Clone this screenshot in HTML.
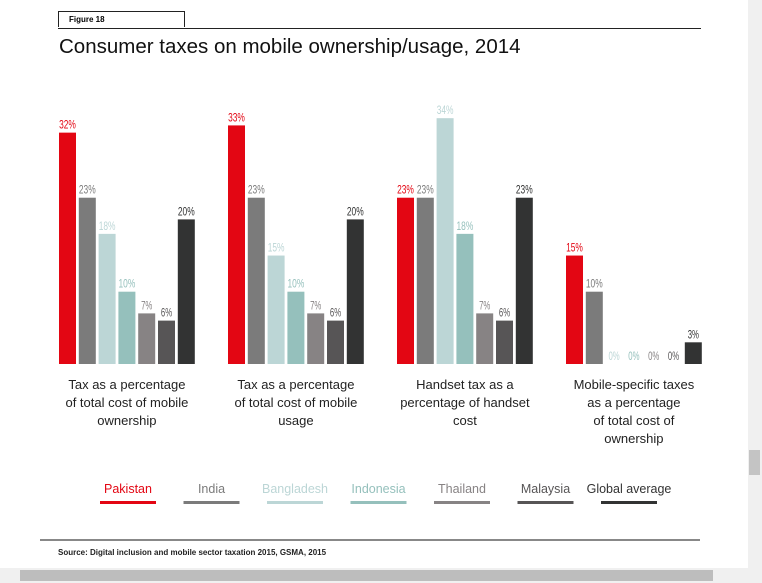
<!DOCTYPE html>
<html><head><meta charset="utf-8"><style>
body{margin:0;width:762px;height:583px;background:#fff;overflow:hidden;font-family:"Liberation Sans",sans-serif;position:relative}
.abs{position:absolute}
</style></head><body>
<div class="abs" style="left:748px;top:0;width:14px;height:583px;background:#f0f0f0"></div>
<div class="abs" style="left:749px;top:450px;width:11px;height:25px;background:#c4c4c4"></div>
<div class="abs" style="left:0;top:568px;width:762px;height:15px;background:#f0f0f0"></div>
<div class="abs" style="left:20px;top:570px;width:693px;height:11px;background:#bdbdbd"></div>
<div class="abs" style="left:58px;top:11px;width:127px;height:16px;border:1px solid #222;border-bottom:none;font-size:8px;font-weight:bold;line-height:16px;padding-left:10px;box-sizing:border-box">Figure 18</div>
<div class="abs" style="left:58px;top:28px;width:643px;height:1px;background:#222"></div>
<div class="abs" style="left:59px;top:35px;font-size:20.5px;color:#111">Consumer taxes on mobile ownership/usage, 2014</div>
<svg class="abs" style="left:0;top:0" width="762" height="583" id="chart"></svg>
<div class="abs" style="left:40px;top:539px;width:660px;height:2px;background:#888"></div>
<div class="abs" style="left:58px;top:548px;font-size:8px;font-weight:bold;color:#222">Source: Digital inclusion and mobile sector taxation 2015, GSMA, 2015</div>
<script>
const categories=["Tax as a percentage|of total cost of mobile|ownership","Tax as a percentage|of total cost of mobile|usage","Handset tax as a|percentage of handset|cost","Mobile-specific taxes|as a percentage|of total cost of|ownership"];
const series=["Pakistan","India","Bangladesh","Indonesia","Thailand","Malaysia","Global average"];
const colors=["#e30613","#7b7b7b","#bcd6d6","#95c0bc","#878384","#575556","#323333"];
const pakistan=[32,33,23,15];
const india=[23,23,23,10];
const bangladesh=[18,15,34,0];
const indonesia=[10,10,18,0];
const thailand=[7,7,7,0];
const malaysia=[6,6,6,0];
const globalAvg=[20,20,23,3];
const values=[pakistan,india,bangladesh,indonesia,thailand,malaysia,globalAvg];
const NS="http://www.w3.org/2000/svg";
const svg=document.getElementById('chart');
const baseY=364,pxPer=7.23;
const y=v=>baseY-v*pxPer;
const x=(g,s)=>59+g*169+s*19.8;
const bw=17;
function mk(t,a){const e=document.createElementNS(NS,t);for(const k in a)e.setAttribute(k,a[k]);svg.appendChild(e);return e;}
categories.forEach((c,g)=>{
  series.forEach((s,i)=>{
    const v=values[i][g];
    const r=mk('rect',{x:x(g,i),y:y(v),width:bw,height:v*pxPer,fill:colors[i]});
    
    
    const lbl=v+'%';
    const t=mk('text',{x:x(g,i)+bw/2,y:y(v)-4,'text-anchor':'middle','font-size':'12',fill:i==1?'#7b7b7b':colors[i],textLength:lbl.length*5.6,lengthAdjust:'spacingAndGlyphs'});
    t.textContent=lbl;
    
    
  });
  const cx=x(g,3)+bw/2;
  c.split('|').forEach((ln,j)=>{
    const t=mk('text',{x:cx,y:389+j*18,'text-anchor':'middle','font-size':'13',fill:'#222'});
    t.textContent=ln;
    
    
  });
});
series.forEach((s,i)=>{
  const lx=100+i*83.5;
  const t=mk('text',{x:lx+28,y:493,'text-anchor':'middle','font-size':'12.5',fill:i==6?'#333':colors[i]});
  t.textContent=s;
  
  
  const l=mk('rect',{x:lx,y:501,width:56,height:3,fill:colors[i]});
  
  
});
</script>
</body></html>
